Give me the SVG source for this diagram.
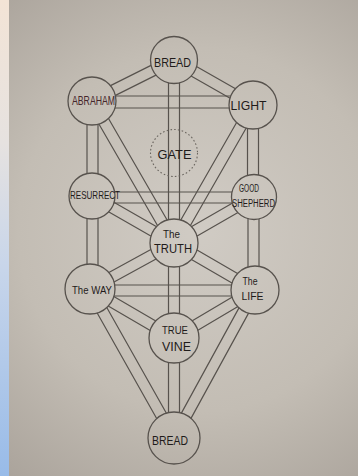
<svg xmlns="http://www.w3.org/2000/svg" width="358" height="476" viewBox="0 0 358 476">
<defs>
<style>
.ch line{stroke:#57524d;stroke-width:1.2;fill:none;stroke-linecap:round}
.nd{fill:none;stroke:#57524d;stroke-width:1.3}
.gate{fill:none;stroke:#6a655f;stroke-width:1.1;stroke-dasharray:1.6 2.2}
.t{font-family:"Liberation Sans","DejaVu Sans",sans-serif;fill:#1f1b1a;text-anchor:middle}
</style>
<radialGradient id="paper" cx="200" cy="230" r="330" gradientUnits="userSpaceOnUse">
<stop offset="0" stop-color="#d0cbc4"/>
<stop offset="0.55" stop-color="#c3bdb4"/>
<stop offset="1" stop-color="#a7a098"/>
</radialGradient>
<linearGradient id="strip" x1="0" y1="0" x2="0" y2="476" gradientUnits="userSpaceOnUse">
<stop offset="0" stop-color="#f3e4d6"/>
<stop offset="0.3" stop-color="#e6e2e0"/>
<stop offset="0.55" stop-color="#c9d6ea"/>
<stop offset="1" stop-color="#98bbe8"/>
</linearGradient>
<mask id="holes" maskUnits="userSpaceOnUse" x="0" y="0" width="358" height="476">
<rect x="0" y="0" width="358" height="476" fill="#fff"/>
<g fill="#000">
<circle cx="174" cy="60" r="23.5"/>
<circle cx="92" cy="101" r="24"/>
<circle cx="253" cy="105" r="24"/>
<circle cx="92" cy="196" r="23"/>
<circle cx="254" cy="197" r="22.5"/>
<circle cx="174" cy="243" r="24"/>
<circle cx="90" cy="289" r="25"/>
<circle cx="255" cy="290" r="24"/>
<circle cx="174" cy="338" r="25"/>
<circle cx="174" cy="438" r="26"/>
</g>
</mask>
</defs>
<rect x="0" y="0" width="358" height="476" fill="url(#paper)"/>
<rect x="0" y="0" width="9" height="476" fill="url(#strip)"/>

<g id="connectors" class="ch" mask="url(#holes)">
<line x1="168.5" y1="60" x2="168.5" y2="243"/><line x1="179.5" y1="60" x2="179.5" y2="243"/>
<line x1="168.5" y1="243" x2="168.5" y2="338"/><line x1="179.5" y1="243" x2="179.5" y2="338"/>
<line x1="168.5" y1="338" x2="168.5" y2="438"/><line x1="179.5" y1="338" x2="179.5" y2="438"/>
<line x1="87" y1="101" x2="87" y2="196"/><line x1="98" y1="101" x2="98" y2="196"/>
<line x1="87" y1="196" x2="87" y2="289"/><line x1="98" y1="196" x2="98" y2="289"/>
<line x1="247.5" y1="105" x2="247.5" y2="197"/><line x1="258.5" y1="105" x2="258.5" y2="197"/>
<line x1="248" y1="197" x2="248" y2="290"/><line x1="259" y1="197" x2="259" y2="290"/>
<line x1="92" y1="96" x2="253" y2="96"/><line x1="92" y1="108" x2="253" y2="108"/>
<line x1="92" y1="192" x2="254" y2="192"/><line x1="92" y1="203" x2="254" y2="203"/>
<line x1="90" y1="285" x2="255" y2="285"/><line x1="90" y1="296" x2="255" y2="296"/>
<line x1="176.5" y1="64.9" x2="94.5" y2="105.9"/><line x1="171.5" y1="55.1" x2="89.5" y2="96.1"/>
<line x1="171.3" y1="64.8" x2="250.3" y2="109.8"/><line x1="176.7" y1="55.2" x2="255.7" y2="100.2"/>
<line x1="87.2" y1="103.8" x2="169.2" y2="245.8"/><line x1="96.8" y1="98.3" x2="178.8" y2="240.3"/>
<line x1="257.8" y1="107.7" x2="178.8" y2="245.7"/><line x1="248.2" y1="102.3" x2="169.2" y2="240.3"/>
<line x1="89.3" y1="200.8" x2="171.3" y2="247.8"/><line x1="94.7" y1="191.2" x2="176.7" y2="238.2"/>
<line x1="256.7" y1="201.8" x2="176.7" y2="247.8"/><line x1="251.3" y1="192.2" x2="171.3" y2="238.2"/>
<line x1="92.6" y1="293.8" x2="176.6" y2="247.8"/><line x1="87.4" y1="284.2" x2="171.4" y2="238.2"/>
<line x1="252.2" y1="294.8" x2="171.2" y2="247.8"/><line x1="257.8" y1="285.2" x2="176.8" y2="238.2"/>
<line x1="87.2" y1="293.8" x2="171.2" y2="342.8"/><line x1="92.8" y1="284.2" x2="176.8" y2="333.2"/>
<line x1="257.8" y1="294.7" x2="176.8" y2="342.7"/><line x1="252.2" y1="285.3" x2="171.2" y2="333.3"/>
<line x1="85.2" y1="291.7" x2="169.2" y2="440.7"/><line x1="94.8" y1="286.3" x2="178.8" y2="435.3"/>
<line x1="259.8" y1="292.6" x2="178.8" y2="440.6"/><line x1="250.2" y1="287.4" x2="169.2" y2="435.4"/>
</g>

<g id="bread-top">
<circle class="nd" cx="174" cy="60" r="23.5"/>
<text class="t" x="172.5" y="66.5" font-size="13" textLength="37" lengthAdjust="spacingAndGlyphs">BREAD</text>
</g>
<g id="abraham">
<circle class="nd" cx="92" cy="101" r="24"/>
<text class="t" x="93.5" y="104.5" font-size="13" textLength="43" lengthAdjust="spacingAndGlyphs" style="fill:#45262b">ABRAHAM</text>
</g>
<g id="light">
<circle class="nd" cx="253" cy="105" r="24"/>
<text class="t" x="248.5" y="110" font-size="13" textLength="36" lengthAdjust="spacingAndGlyphs">LIGHT</text>
</g>
<g id="gate">
<circle class="gate" cx="174" cy="153" r="23.5"/>
<text class="t" x="174.5" y="159" font-size="13" textLength="34" lengthAdjust="spacingAndGlyphs">GATE</text>
</g>
<g id="resurrect">
<circle class="nd" cx="92" cy="196" r="23"/>
<text class="t" x="95" y="199" font-size="11" textLength="50" lengthAdjust="spacingAndGlyphs">RESURRECT</text>
</g>
<g id="good-shepherd">
<circle class="nd" cx="254" cy="197" r="22.5"/>
<text class="t" x="249" y="191.5" font-size="10" textLength="20" lengthAdjust="spacingAndGlyphs">GOOD</text>
<text class="t" x="253.5" y="206.5" font-size="10" textLength="43" lengthAdjust="spacingAndGlyphs">SHEPHERD</text>
</g>
<g id="truth">
<circle class="nd" cx="174" cy="243" r="24"/>
<text class="t" x="171.5" y="238" font-size="10" textLength="17" lengthAdjust="spacingAndGlyphs">The</text>
<text class="t" x="173" y="253" font-size="12" textLength="38" lengthAdjust="spacingAndGlyphs">TRUTH</text>
</g>
<g id="the-way">
<circle class="nd" cx="90" cy="289" r="25"/>
<text class="t" x="92" y="293.5" font-size="11" textLength="40" lengthAdjust="spacingAndGlyphs">The WAY</text>
</g>
<g id="the-life">
<circle class="nd" cx="255" cy="290" r="24"/>
<text class="t" x="250" y="284.5" font-size="10" textLength="15" lengthAdjust="spacingAndGlyphs">The</text>
<text class="t" x="252.5" y="299.5" font-size="11" textLength="22" lengthAdjust="spacingAndGlyphs">LIFE</text>
</g>
<g id="true-vine">
<circle class="nd" cx="174" cy="338" r="25"/>
<text class="t" x="175" y="334" font-size="10" textLength="26" lengthAdjust="spacingAndGlyphs">TRUE</text>
<text class="t" x="176.5" y="351" font-size="12" textLength="29" lengthAdjust="spacingAndGlyphs">VINE</text>
</g>
<g id="bread-bottom">
<circle class="nd" cx="174" cy="438" r="26"/>
<text class="t" x="170" y="445" font-size="13" textLength="36" lengthAdjust="spacingAndGlyphs">BREAD</text>
</g>
</svg>
